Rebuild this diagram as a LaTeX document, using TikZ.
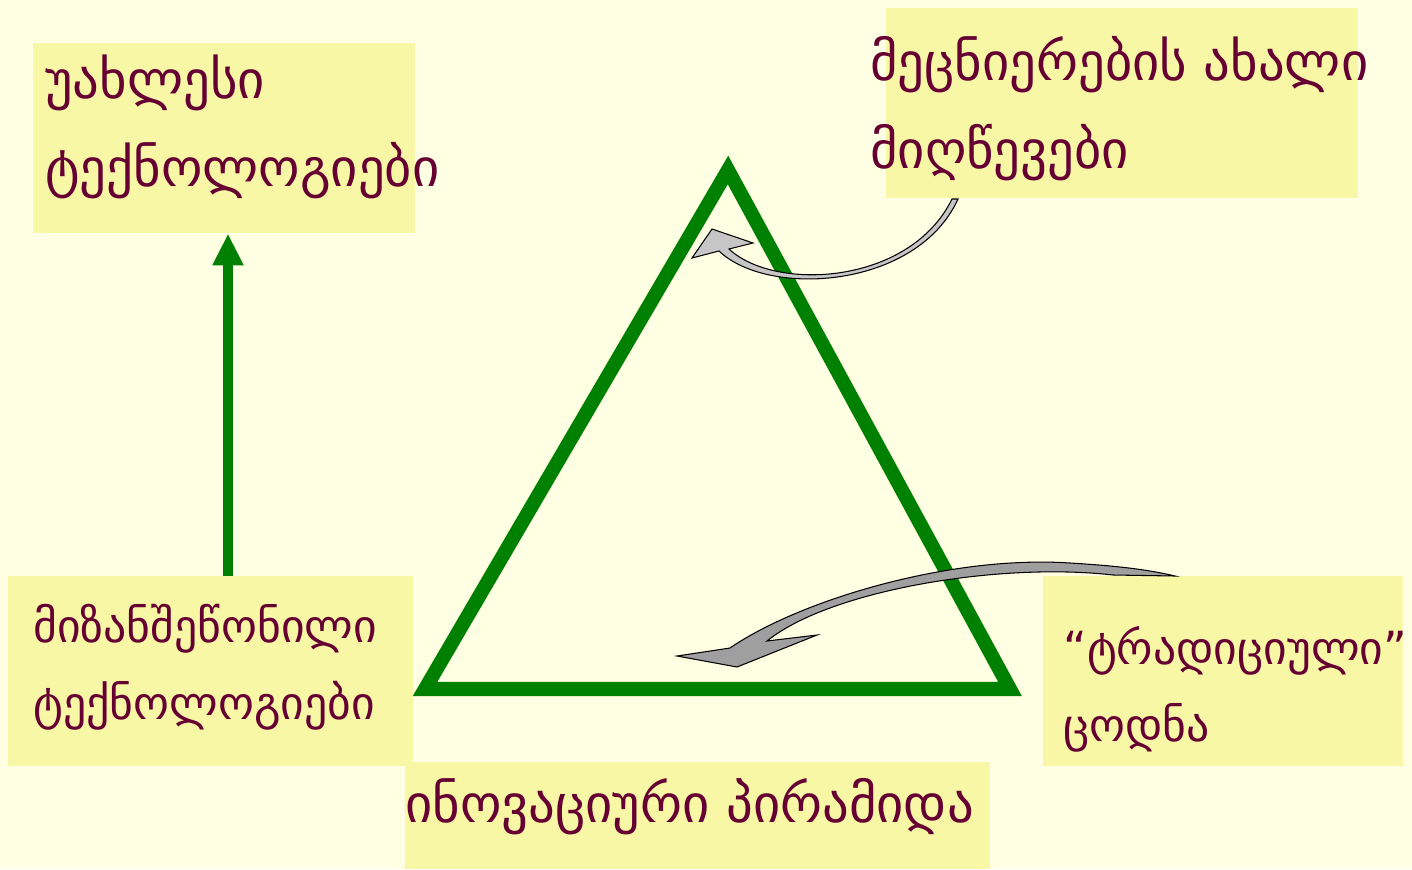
\documentclass[tikz,border=0pt]{standalone}
\usepackage{fontspec}
\setmainfont{DejaVu Sans}
\usepackage{tikz}
\usetikzlibrary{arrows.meta, positioning}
\definecolor{bgcream}{HTML}{FFFFE3}
\definecolor{boxyellow}{HTML}{F7F7A6}
\definecolor{wine}{HTML}{660033}
\definecolor{leaf}{HTML}{008000}

\begin{document}
\begin{tikzpicture}[x=0.02cm, y=-0.02cm,
  box/.style={rectangle, fill=boxyellow, inner sep=0pt, anchor=north west, minimum height=3.8cm},
  lbl/.style={text=wine, font=\fontsize{30}{50}\selectfont, align=left, anchor=north west, inner sep=0pt},
  lblsmall/.style={lbl, font=\fontsize{26}{44}\selectfont},
  pyramid/.style={draw=leaf, line width=8pt, line join=miter},
  uparrow/.style={draw=leaf, line width=5.7pt, -{Triangle[length=18pt, width=16.5pt]}},
  curvearrow/.style={draw=black, line width=0.6pt, line join=miter},
]
\fill[bgcream] (0,0) rectangle (1412,869);
\useasboundingbox (0,0) rectangle (1412,869);

\node[box, minimum width=7.64cm] (bxA) at (33,43) {};
\node[box, minimum width=9.44cm] (bxB) at (886,8) {};
\node[box, minimum width=8.1cm] (bxC) at (8,576) {};
\node[box, minimum width=7.2cm] (bxD) at (1043,576) {};
\node[box, minimum width=11.7cm, minimum height=2.14cm] (bxE) at (405,762) {};

\node[lbl] (tA) at (45,55) {უახლესი\\ტექნოლოგიები};
\node[lbl] (tB) at (870,36) {მეცნიერების ახალი\\მიღწევები};
\node[lblsmall] (tC) at (33,604) {მიზანშეწონილი\\ტექნოლოგიები};
\node[lblsmall] (tD) at (1063,626) {“ტრადიციული”\\ცოდნა};
\node[lbl] (tE) at (405,778) {ინოვაციური პირამიდა};

\coordinate (apex) at (728,170);
\coordinate (baseL) at (425,689);
\coordinate (baseR) at (1010,689);
\draw[pyramid] (apex) -- (baseR) -- (baseL) -- cycle;

\draw[uparrow] (228,0 |- bxC.north) -- (228,0 |- bxA.south);

\filldraw[curvearrow, fill=gray!45] (692,258) -- (712,229) -- (753,243) -- (729,249)
  .. controls (775,292) and (910,285) .. (952,199) -- (958,199)
  .. controls (917,289) and (768,298) .. (719,251) -- cycle;

\filldraw[curvearrow, fill=gray!75] (677,656) -- (730,648)
  .. controls (800,600) and (950,555) .. (1070,563)
  .. controls (1120,566) and (1150,570) .. (1175,576) -- (1113,575)
  .. controls (1000,562) and (830,590) .. (767,641) -- (817,635) -- (737,667) -- cycle;
\end{tikzpicture}
\end{document}
